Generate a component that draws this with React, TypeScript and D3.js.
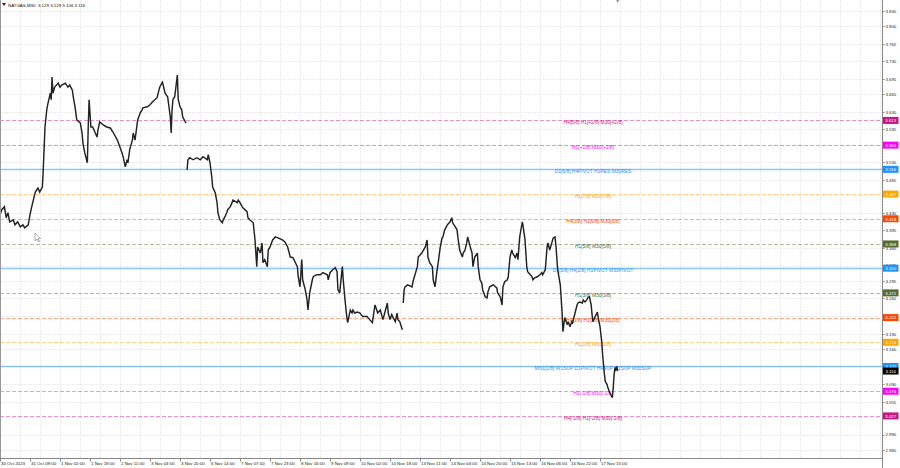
import React from 'react';
import * as d3 from 'd3';

// ---------------- DATA ----------------
const symbolTitle = 'NATGAS,M30';
const titleOHLC = ['3.129', '3.129', '3.106', '3.116'];
const lastPrice = 3.116;

const yTickValues = [3.830, 3.800, 3.765, 3.730, 3.695, 3.665, 3.630, 3.595, 3.565, 3.530, 3.495, 3.465, 3.430, 3.395, 3.360, 3.325, 3.295, 3.260, 3.225, 3.190, 3.160, 3.125, 3.090, 3.055, 3.025, 2.990, 2.960];

const timeLabels = ['30 Oct 2023', '31 Oct 09:00', '1 Nov 02:00', '1 Nov 18:00', '2 Nov 11:00', '3 Nov 04:00', '3 Nov 20:00', '6 Nov 14:00', '7 Nov 07:00', '7 Nov 23:00', '8 Nov 16:00', '9 Nov 09:00', '10 Nov 02:00', '10 Nov 18:00', '13 Nov 11:00', '14 Nov 04:00', '14 Nov 20:00', '15 Nov 13:00', '16 Nov 06:00', '16 Nov 22:00', '17 Nov 15:00'];
const timeLabelBars = [0, 34, 68, 102, 136, 170, 204, 238, 272, 306, 340, 374, 408, 442, 476, 510, 544, 578, 612, 646, 680];

// Murrey-math style levels
const levelValues = [3.613, 3.564, 3.516, 3.467, 3.418, 3.368, 3.320, 3.271, 3.222, 3.173, 3.125, 3.076, 3.027];
const levelTexts = [
  'H4[5/8] H1[+2/8] M30[+2/8]',
  'H1[+1/8] M30[+1/8]',
  'D1[6/8] H4PIVOT H1RES M30RES',
  'H1[7/8] M30[7/8]',
  'H4[3/8] H1[6/8] M30[6/8]',
  'H1[5/8] M30[5/8]',
  'D1[5/8] H4[2/8] H1PIVOT M30PIVOT',
  'H1[3/8] M30[3/8]',
  'H4[1/8] H1[2/8] M30[2/8]',
  'H1[1/8] M30[1/8]',
  'MN1[2/8] W1SUP D1PIVOT H4SUP H1SUP M30SUP',
  'H1[-1/8] M30[-1/8]',
  'H4[-1/8] H1[-2/8] M30[-2/8]',
];
const levelKinds = ['mvr', 'mag', 'blue', 'orange', 'ored', 'olive', 'blue', 'olive', 'ored', 'orange', 'blue', 'mag', 'mvr'];

// price path (bar index, price), three sessions separated by weekends
const session1: [number, number][] = [
  [0, 3.426], [2, 3.436], [5, 3.442], [7, 3.420], [9, 3.430], [11, 3.412], [15, 3.416], [17, 3.406], [20, 3.412], [23, 3.402], [26, 3.406], [28, 3.400], [32, 3.406],
  [34, 3.426], [36, 3.442], [40, 3.471], [43, 3.479], [45, 3.471], [48, 3.481], [49, 3.515], [51, 3.600], [53, 3.634], [54, 3.644], [57, 3.667], [58, 3.654], [59, 3.699],
  [60, 3.667], [62, 3.679], [66, 3.687], [68, 3.679], [70, 3.683], [74, 3.687], [77, 3.679], [79, 3.683], [82, 3.673], [83, 3.660], [85, 3.640], [87, 3.614], [91, 3.608],
  [93, 3.588], [94, 3.568], [96, 3.549], [99, 3.529], [100, 3.600], [101, 3.654], [103, 3.600], [105, 3.600], [108, 3.588], [110, 3.580], [111, 3.594], [113, 3.610],
  [117, 3.604], [121, 3.600], [125, 3.598], [128, 3.590], [133, 3.574], [136, 3.560], [139, 3.545], [142, 3.521], [144, 3.535], [145, 3.529], [147, 3.555], [150, 3.574],
  [151, 3.588], [153, 3.574], [155, 3.600], [156, 3.614], [159, 3.628], [161, 3.634], [162, 3.638], [167, 3.640], [170, 3.644], [173, 3.650], [178, 3.658], [181, 3.679],
  [184, 3.689], [185, 3.683], [187, 3.667], [190, 3.660], [193, 3.620], [194, 3.588], [195, 3.634], [196, 3.654], [198, 3.660], [201, 3.703], [202, 3.654], [204, 3.640],
  [206, 3.634], [207, 3.620], [210, 3.610], [211, 3.608],
];
const session2: [number, number][] = [
  [212, 3.515], [213, 3.535], [215, 3.539], [219, 3.535], [223, 3.539], [227, 3.535], [230, 3.541], [235, 3.535], [236, 3.545], [238, 3.529], [240, 3.501], [241, 3.481],
  [244, 3.469], [246, 3.450], [247, 3.430], [249, 3.416], [252, 3.410], [253, 3.416], [255, 3.422], [257, 3.430], [258, 3.436], [261, 3.442], [263, 3.450], [264, 3.455],
  [269, 3.450], [270, 3.455], [272, 3.450], [275, 3.440], [280, 3.432], [281, 3.420], [283, 3.416], [287, 3.410], [289, 3.376], [291, 3.323], [292, 3.362], [295, 3.350],
  [297, 3.370], [298, 3.331], [300, 3.337], [303, 3.323], [304, 3.356], [306, 3.362], [309, 3.376], [312, 3.382], [315, 3.380], [320, 3.376], [323, 3.372], [326, 3.362],
  [329, 3.342], [332, 3.341], [337, 3.323], [338, 3.303], [340, 3.283], [342, 3.337], [343, 3.297], [346, 3.277], [348, 3.257], [349, 3.237], [351, 3.271], [354, 3.297],
  [355, 3.303], [359, 3.307], [363, 3.307], [366, 3.311], [371, 3.307], [372, 3.297], [374, 3.311], [377, 3.317], [380, 3.321], [382, 3.313], [383, 3.277], [385, 3.271],
  [388, 3.323], [389, 3.297], [391, 3.257], [393, 3.224], [394, 3.212], [397, 3.237], [399, 3.231], [400, 3.237], [402, 3.231], [405, 3.233], [408, 3.231], [411, 3.224],
  [416, 3.224], [419, 3.218], [422, 3.212], [425, 3.247], [427, 3.237], [428, 3.231], [431, 3.237], [433, 3.224], [434, 3.218], [436, 3.231], [439, 3.251], [440, 3.231],
  [442, 3.218], [444, 3.228], [445, 3.224], [448, 3.214], [450, 3.231], [451, 3.218], [453, 3.214], [456, 3.198],
];
const session3: [number, number][] = [
  [457, 3.251], [458, 3.277], [459, 3.283], [462, 3.287], [467, 3.283], [468, 3.293], [473, 3.323], [474, 3.342], [478, 3.350], [482, 3.362], [484, 3.376], [485, 3.342],
  [487, 3.331], [490, 3.323], [491, 3.297], [493, 3.283], [495, 3.311], [496, 3.323], [499, 3.362], [501, 3.380], [502, 3.382], [504, 3.396], [507, 3.406], [510, 3.412],
  [512, 3.420], [513, 3.410], [516, 3.402], [518, 3.396], [519, 3.380], [521, 3.356], [524, 3.342], [525, 3.350], [527, 3.356], [529, 3.370], [530, 3.382], [533, 3.362],
  [535, 3.350], [536, 3.323], [538, 3.342], [541, 3.350], [542, 3.323], [544, 3.297], [546, 3.291], [547, 3.277], [550, 3.263], [552, 3.261], [553, 3.273], [555, 3.283],
  [559, 3.287], [563, 3.281], [564, 3.271], [567, 3.263], [569, 3.247], [570, 3.283], [572, 3.293], [575, 3.297], [576, 3.303], [578, 3.342], [580, 3.356], [581, 3.350],
  [584, 3.341], [586, 3.350], [587, 3.337], [589, 3.382], [592, 3.412], [593, 3.402], [595, 3.376], [597, 3.323], [598, 3.313], [601, 3.307], [603, 3.303], [604, 3.297],
  [606, 3.301], [609, 3.303], [612, 3.307], [614, 3.311], [615, 3.307], [618, 3.317], [620, 3.362], [621, 3.370], [623, 3.356], [627, 3.380], [629, 3.382], [630, 3.366],
  [632, 3.317], [635, 3.287], [637, 3.233], [638, 3.194], [640, 3.222], [643, 3.208], [644, 3.214], [646, 3.204], [648, 3.214], [649, 3.212], [652, 3.233], [654, 3.247],
  [655, 3.251], [657, 3.253], [660, 3.251], [661, 3.257], [663, 3.253], [665, 3.257], [666, 3.261], [668, 3.263], [670, 3.247], [671, 3.228], [672, 3.214], [674, 3.222],
  [677, 3.233], [678, 3.222], [680, 3.204], [682, 3.174], [683, 3.148], [685, 3.109], [686, 3.095], [688, 3.089], [689, 3.083], [691, 3.073], [694, 3.063], [695, 3.083],
  [696, 3.109], [697, 3.123], [698, 3.119], [699, 3.125], [700, 3.116],
];
const sessions = [session1, session2, session3];

// ---------------- STYLE ----------------
const kindColor: Record<string, string> = {
  mvr: '#c71585', mag: '#ff00ff', blue: '#1e90ff', orange: '#ffa500', ored: '#ff4500', olive: '#556b2f',
};
const FONT = '"Liberation Sans", Arial, sans-serif';
const W = 900;
const H = 468;
const PLOT_R = 882.5;
const PLOT_B = 458.5;
const GRID_STEP_PX = 20;

export default function App() {
  const x = d3.scaleLinear().domain([0, 1000]).range([0, 882.35]);
  const y = d3.scaleLinear().domain([2.96, 3.83]).range([449.7, 11]);
  const line = d3.line<[number, number]>().x(d => x(d[0])).y(d => y(d[1]));
  const vGrid = d3.range(GRID_STEP_PX, PLOT_R, GRID_STEP_PX);

  return (
    <svg width={W} height={H} style={{ position: 'absolute', left: 0, top: 0, background: '#fff' }} fontFamily={FONT}>
      <rect x={0} y={0} width={W} height={H} fill="#fff" />
      {/* grid */}
      {yTickValues.map((v, i) => (
        <line key={'gy' + i} x1={0} x2={PLOT_R} y1={Math.round(y(v)) + 0.5} y2={Math.round(y(v)) + 0.5} stroke="#ececec" strokeWidth={1} strokeDasharray="2,1" />
      ))}
      {vGrid.map((gx, i) => (
        <line key={'gx' + i} x1={gx + 0.5} x2={gx + 0.5} y1={0} y2={PLOT_B} stroke="#ececec" strokeWidth={1} strokeDasharray="2,1" />
      ))}
      {/* levels */}
      {levelValues.map((v, i) => {
        const c = kindColor[levelKinds[i]];
        const solid = levelKinds[i] === 'blue';
        const yy = Math.round(y(v)) + 0.5;
        return (
          <g key={'lv' + i}>
            <line x1={0} x2={PLOT_R} y1={yy} y2={yy} stroke={c} strokeOpacity={solid ? 0.5 : 0.45} strokeWidth={solid ? 1.3 : 1} strokeDasharray={solid ? undefined : '4,2'} />
            <text x={593} y={yy + 1.8} fontSize={4.9} fill={c} textAnchor="middle" dominantBaseline="central">{levelTexts[i]}</text>
          </g>
        );
      })}
      {/* price path */}
      {sessions.map((s, i) => (
        <path key={'ps' + i} d={line(s) || ''} fill="none" stroke="#222" strokeWidth={1.45} strokeLinejoin="miter" strokeMiterlimit={3} />
      ))}
      {/* cursor */}
      <path d="M35,233 L35,241 L37,239 L38.5,242 L39.5,241.5 L38,238.6 L40.5,238.6 Z" fill="#fff" stroke="#777" strokeWidth={0.6} />
      {/* shift marker */}
      <path d={`M${x(700) - 1.5},0 L${x(700) + 1.5},0 L${x(700)},3 Z`} fill="#999" />
      {/* frame */}
      <line x1={0.5} x2={0.5} y1={0} y2={PLOT_B} stroke="#999" />
      <line x1={0} x2={PLOT_R} y1={PLOT_B} y2={PLOT_B} stroke="#888" />
      <line x1={PLOT_R} x2={PLOT_R} y1={0} y2={H} stroke="#888" />
      {/* y ticks */}
      {yTickValues.map((v, i) => (
        <g key={'yt' + i}>
          <line x1={PLOT_R} x2={PLOT_R + 2} y1={Math.round(y(v)) + 0.5} y2={Math.round(y(v)) + 0.5} stroke="#888" />
          <text x={885.5} y={y(v) + 0.3} fontSize={4.3} fill="#222" dominantBaseline="central">{v.toFixed(3)}</text>
        </g>
      ))}
      {/* x ticks */}
      {timeLabelBars.map((b, i) => (
        <g key={'xt' + i}>
          <line x1={Math.round(x(b)) + 0.5} x2={Math.round(x(b)) + 0.5} y1={PLOT_B} y2={PLOT_B + 3} stroke="#888" />
          <text x={x(b) + 1} y={463.5} fontSize={4.4} fill="#222" dominantBaseline="central">{timeLabels[i]}</text>
        </g>
      ))}
      {/* price boxes */}
      {levelValues.map((v, i) => {
        const c = kindColor[levelKinds[i]];
        const yy = y(v);
        return (
          <g key={'pb' + i}>
            <rect x={883} y={yy - 3.5} width={15.5} height={7} fill={c} />
            <text x={890.7} y={yy + 0.3} fontSize={4.3} fill="#fff" textAnchor="middle" dominantBaseline="central">{v.toFixed(3)}</text>
          </g>
        );
      })}
      <g>
        <rect x={883} y={y(lastPrice) - 3.5} width={15.5} height={7} fill="#000" />
        <text x={890.7} y={y(lastPrice) + 0.3} fontSize={4.3} fill="#fff" textAnchor="middle" dominantBaseline="central">{lastPrice.toFixed(3)}</text>
      </g>
      {/* title */}
      <path d="M2,3 L6,3 L4,6 Z" fill="#222" />
      <text x={8} y={5} fontSize={4.4} fill="#111" dominantBaseline="central" xmlSpace="preserve">{symbolTitle + '  ' + titleOHLC.join(' ')}</text>
    </svg>
  );
}
